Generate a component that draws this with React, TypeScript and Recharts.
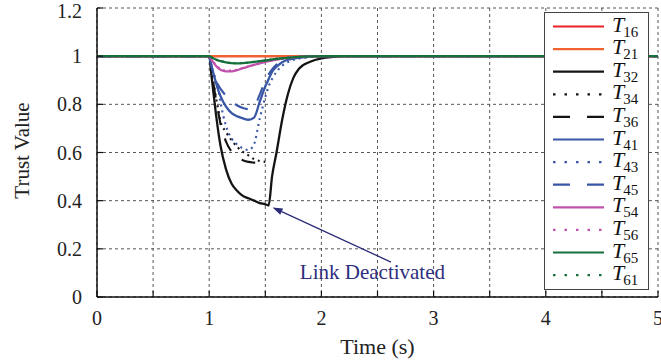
import React from 'react';
import { LineChart, Line, XAxis, YAxis, CartesianGrid, ReferenceLine, ReferenceDot } from 'recharts';

// time samples (s)
const times = [0, 1.0, 1.02, 1.04, 1.06, 1.08, 1.1, 1.15, 1.2, 1.25, 1.3, 1.35, 1.4, 1.45, 1.5, 1.53, 1.56, 1.6, 1.65, 1.7, 1.75, 1.8, 1.9, 2.0, 2.1, 2.2, 2.4, 5.0];

const T16 = [1, 1, 1, 1, 1, 1, 1, 1, 1, 1, 1, 1, 1, 1, 1, 1, 1, 1, 1, 1, 1, 1, 1, 1, 1, 1, 1, 1];
const T21 = [1, 1, 1, 1, 1, 1, 1, 1, 1, 1, 1, 1, 1, 1, 1, 1, 1, 1, 1, 1, 1, 1, 1, 1, 1, 1, 1, 1];
const T32 = [1, 1, 0.92, 0.84, 0.76, 0.69, 0.63, 0.53, 0.47, 0.44, 0.42, 0.41, 0.4, 0.39, 0.385, 0.38, 0.5, 0.6, 0.735, 0.84, 0.91, 0.948, 0.977, 0.991, 0.997, 1, 1, 1];
const T34 = [1, 1, 0.95, 0.89, 0.83, 0.78, 0.73, 0.685, 0.65, 0.623, 0.603, 0.588, 0.572, 0.565, 0.561, null, null, null, null, null, null, null, null, null, null, null, null, null];
const T36 = [1, 1, 0.94, 0.88, 0.82, 0.77, 0.72, 0.645, 0.603, 0.58, 0.568, 0.561, 0.558, 0.556, 0.555, null, null, null, null, null, null, null, null, null, null, null, null, null];
const T41 = [1, 1, 0.96, 0.925, 0.89, 0.86, 0.835, 0.79, 0.763, 0.75, 0.742, 0.736, 0.745, 0.81, 0.875, 0.905, 0.935, 0.956, 0.975, 0.985, 0.99, 0.994, 0.998, 1, 1, 1, 1, 1];
const T43 = [1, 1, 0.96, 0.93, 0.9, 0.865, 0.81, 0.71, 0.658, 0.633, 0.617, 0.61, 0.635, 0.74, 0.83, 0.875, 0.905, 0.935, 0.96, 0.975, 0.985, 0.99, 0.997, 1, 1, 1, 1, 1];
const T45 = [1, 1, 0.96, 0.93, 0.9, 0.88, 0.865, 0.835, 0.81, 0.795, 0.785, 0.78, 0.79, 0.84, 0.9, 0.925, 0.945, 0.965, 0.98, 0.988, 0.993, 0.996, 0.999, 1, 1, 1, 1, 1];
const T54 = [1, 1, 0.985, 0.972, 0.96, 0.95, 0.944, 0.937, 0.937, 0.942, 0.95, 0.957, 0.964, 0.97, 0.976, 0.979, 0.982, 0.986, 0.99, 0.993, 0.995, 0.997, 0.999, 1, 1, 1, 1, 1];
const T56 = [1, 1, 0.987, 0.975, 0.964, 0.955, 0.948, 0.94, 0.94, 0.944, 0.951, 0.958, 0.965, 0.971, 0.977, 0.98, 0.983, 0.987, 0.99, 0.993, 0.995, 0.997, 0.999, 1, 1, 1, 1, 1];
const T65 = [1, 1, 0.995, 0.99, 0.986, 0.982, 0.979, 0.974, 0.971, 0.97, 0.971, 0.973, 0.976, 0.979, 0.982, 0.984, 0.986, 0.989, 0.991, 0.993, 0.995, 0.997, 0.999, 1, 1, 1, 1, 1];
const T61 = [1, 1, 0.996, 0.991, 0.987, 0.983, 0.98, 0.975, 0.972, 0.971, 0.972, 0.974, 0.977, 0.98, 0.983, 0.985, 0.987, 0.99, 0.992, 0.994, 0.996, 0.997, 0.999, 1, 1, 1, 1, 1];

const xTicks = [0, 0.5, 1, 1.5, 2, 2.5, 3, 3.5, 4, 4.5, 5];
const yTicks = [0, 0.2, 0.4, 0.6, 0.8, 1, 1.2];

const annotationText = 'Link Deactivated';
const arrowTail = { x: 2.62, y: 0.145 };
const arrowTip = { x: 1.565, y: 0.372 };
const textPos = { x: 2.455, y: 0.105 };

const seriesValues: Record<string, (number | null)[]> = { T16, T21, T32, T34, T36, T41, T43, T45, T54, T56, T65, T61 };

const RED = '#ec2227';
const ORANGE = '#f0622f';
const BLACK = '#141414';
const BLUE = '#3a56a6';
const MAGENTA = '#c052ac';
const GREEN = '#17703c';

type Style = { key: string; sub: string; color: string; kind: 'solid' | 'dotted' | 'dashed' };
const styles: Style[] = [
  { key: 'T16', sub: '16', color: RED, kind: 'solid' },
  { key: 'T21', sub: '21', color: ORANGE, kind: 'solid' },
  { key: 'T32', sub: '32', color: BLACK, kind: 'solid' },
  { key: 'T34', sub: '34', color: BLACK, kind: 'dotted' },
  { key: 'T36', sub: '36', color: BLACK, kind: 'dashed' },
  { key: 'T41', sub: '41', color: BLUE, kind: 'solid' },
  { key: 'T43', sub: '43', color: BLUE, kind: 'dotted' },
  { key: 'T45', sub: '45', color: BLUE, kind: 'dashed' },
  { key: 'T54', sub: '54', color: MAGENTA, kind: 'solid' },
  { key: 'T56', sub: '56', color: MAGENTA, kind: 'dotted' },
  { key: 'T65', sub: '65', color: GREEN, kind: 'solid' },
  { key: 'T61', sub: '61', color: GREEN, kind: 'dotted' },
];

const rows = times.map((t, i) => {
  const r: Record<string, number | null> = { t };
  Object.keys(seriesValues).forEach((k) => {
    r[k] = seriesValues[k][i];
  });
  return r;
});

const FONT = '"Liberation Serif", "DejaVu Serif", serif';

const plotDash = (k: Style['kind']) => (k === 'dotted' ? '2 4' : k === 'dashed' ? '14 14' : undefined);
const legendDash = (k: Style['kind']) => (k === 'dotted' ? '2.5 9' : k === 'dashed' ? '17 17' : undefined);

const Arrow = (p: any) => {
  const { x1, y1, x2, y2 } = p;
  if ([x1, y1, x2, y2].some((v) => typeof v !== 'number' || isNaN(v))) return <g />;
  const ang = Math.atan2(y2 - y1, x2 - x1);
  const L = 10;
  const W = 3.5;
  const bx = x2 - L * Math.cos(ang);
  const by = y2 - L * Math.sin(ang);
  const px = -Math.sin(ang) * W;
  const py = Math.cos(ang) * W;
  return (
    <g>
      <line x1={x1} y1={y1} x2={bx} y2={by} stroke="#2b2b78" strokeWidth={1.3} />
      <polygon points={`${x2},${y2} ${bx + px},${by + py} ${bx - px},${by - py}`} fill="#2b2b78" />
    </g>
  );
};

const YTick = (p: any) => {
  const v = p.payload?.value;
  const shift = v === 1.2 ? 3 : 0;
  return (
    <text x={p.x} y={p.y + shift} dy="0.35em" textAnchor="end" fill="#222" fontSize={20} fontFamily={FONT}>
      {String(v)}
    </text>
  );
};

const Legend = () => (
  <svg width={107} height={280} style={{ position: 'absolute', left: 544, top: 12 }}>
    <rect x={0.5} y={0.5} width={104} height={277} fill="#fff" stroke="#444" strokeWidth={1} />
    {styles.map((s, i) => {
      const y = 14.5 + i * 22.6;
      return (
        <g key={s.key}>
          <line x1={9} x2={60} y1={y} y2={y} stroke={s.color} strokeWidth={2.2} strokeDasharray={legendDash(s.kind)} />
          <text x={68} y={y + 5} fontFamily={FONT} fill="#111">
            <tspan fontStyle="italic" fontSize={22}>T</tspan>
            <tspan fontSize={15} dy={5} dx={-1}>{s.sub}</tspan>
          </text>
        </g>
      );
    })}
  </svg>
);

export default function App() {
  const tickStyle = { fill: '#222', fontSize: 20, fontFamily: FONT };
  return (
    <div style={{ position: 'absolute', left: 0, top: 0, width: 661, height: 364, background: '#fff' }}>
      <LineChart width={661} height={364} data={rows} margin={{ top: 8, right: 3, bottom: 37, left: 0 }}>
        <CartesianGrid stroke="#444" strokeDasharray="3 3" strokeWidth={0.9} />
        <XAxis
          dataKey="t"
          type="number"
          domain={[0, 5]}
          ticks={xTicks}
          interval={0}
          allowDataOverflow
          tickFormatter={(v: number) => (Number.isInteger(v) ? String(v) : '')}
          tickSize={-6}
          tickMargin={20}
          height={30}
          axisLine={{ stroke: '#111', strokeWidth: 1.5 }}
          tickLine={{ stroke: '#111', strokeWidth: 1.2 }}
          tick={tickStyle}
          label={{ value: 'Time (s)', position: 'center', dy: 34, fill: '#222', fontSize: 22, fontFamily: FONT }}
        />
        <XAxis
          xAxisId="top"
          orientation="top"
          dataKey="t"
          type="number"
          domain={[0, 5]}
          ticks={xTicks}
          interval={0}
          height={0}
          tickSize={-6}
          tickFormatter={() => ''}
          axisLine={{ stroke: '#111', strokeWidth: 1.5 }}
          tickLine={{ stroke: '#111', strokeWidth: 1.2 }}
        />
        <YAxis
          type="number"
          domain={[0, 1.2]}
          ticks={yTicks}
          interval={0}
          width={97}
          tickSize={-6}
          tickMargin={21}
          axisLine={{ stroke: '#111', strokeWidth: 1.5 }}
          tickLine={{ stroke: '#111', strokeWidth: 1.2 }}
          tick={<YTick />}
          label={{ value: 'Trust Value', angle: -90, position: 'center', dx: -27, dy: -2, fill: '#222', fontSize: 21, fontFamily: FONT }}
        />
        <YAxis
          yAxisId="r"
          orientation="right"
          type="number"
          domain={[0, 1.2]}
          ticks={yTicks}
          interval={0}
          width={0}
          tickSize={-6}
          tickFormatter={() => ''}
          axisLine={{ stroke: '#111', strokeWidth: 1.5 }}
          tickLine={{ stroke: '#111', strokeWidth: 1.2 }}
        />
        {styles.map((s) => (
          <Line
            key={s.key}
            dataKey={s.key}
            type="monotone"
            stroke={s.color}
            strokeWidth={s.kind === 'solid' ? 2.3 : 2.1}
            strokeDasharray={plotDash(s.kind)}
            dot={false}
            activeDot={false}
            isAnimationActive={false}
            connectNulls={false}
          />
        ))}
        <ReferenceLine segment={[arrowTail, arrowTip]} shape={Arrow} ifOverflow="visible" />
        <ReferenceDot
          x={textPos.x}
          y={textPos.y}
          r={0}
          fill="none"
          stroke="none"
          ifOverflow="visible"
          label={{ value: annotationText, position: 'center', fill: '#2e2e7e', fontSize: 21, fontFamily: FONT }}
        />
      </LineChart>
      <Legend />
    </div>
  );
}
